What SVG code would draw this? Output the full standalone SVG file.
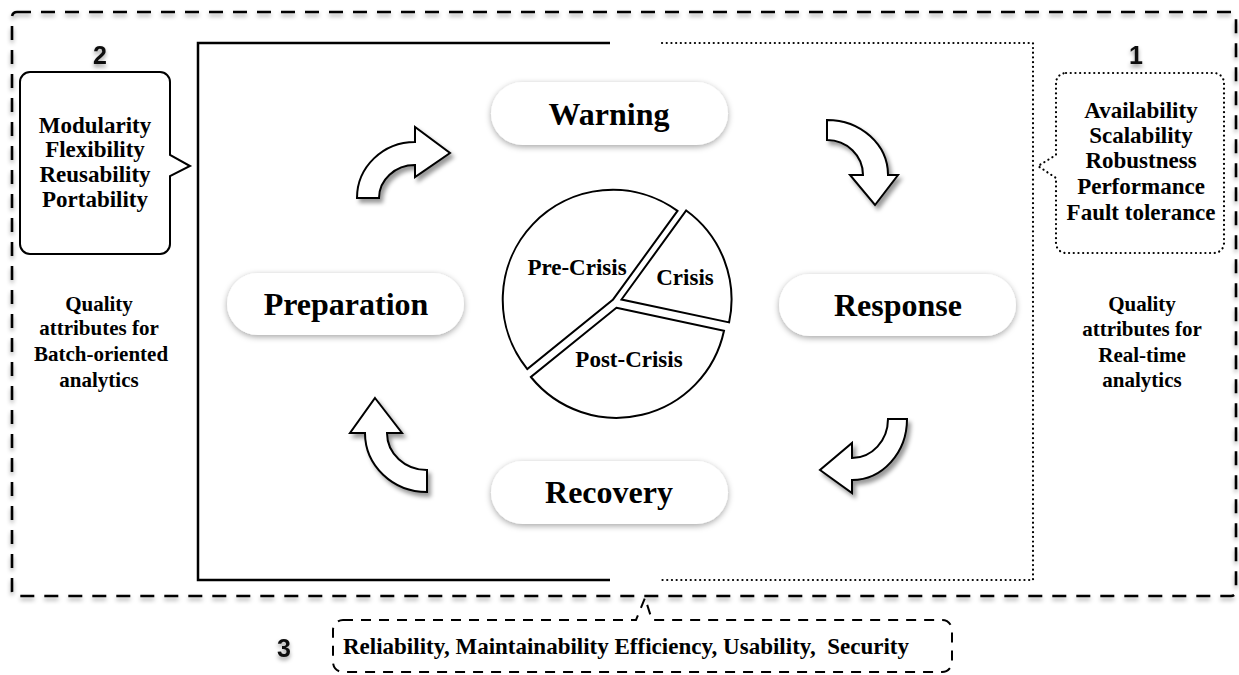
<svg xmlns="http://www.w3.org/2000/svg" width="1239" height="675" viewBox="0 0 1239 675">
<defs>
<filter id="soft" x="-20%" y="-40%" width="140%" height="190%"><feDropShadow dx="0" dy="2" stdDeviation="3" flood-color="#000" flood-opacity="0.35"/></filter>
<filter id="ash" x="-30%" y="-30%" width="170%" height="170%"><feDropShadow dx="3" dy="4" stdDeviation="2" flood-color="#000" flood-opacity="0.4"/></filter>
<filter id="bsh" x="-5%" y="-5%" width="110%" height="115%"><feDropShadow dx="0" dy="3" stdDeviation="2" flood-color="#000" flood-opacity="0.35"/></filter>
<filter id="nsh" x="-50%" y="-50%" width="200%" height="200%"><feDropShadow dx="0" dy="3" stdDeviation="2" flood-color="#000" flood-opacity="0.4"/></filter>
</defs>
<style>
.t{font-family:"Liberation Serif","Times New Roman",serif;font-weight:bold;text-anchor:middle;fill:#000}
.big{font-size:32px}
.mid{font-size:23px}
.lab{font-size:21px}
.pie{font-size:23px}
.num{font-family:"Liberation Sans",Arial,sans-serif;font-weight:bold;font-size:25px;text-anchor:middle;fill:#111;filter:url(#nsh)}
.pill{fill:#fff;filter:url(#soft)}
.arr{fill:#fff;stroke:#000;stroke-width:2;stroke-linejoin:miter;filter:url(#ash)}
.slice{fill:#fff;stroke:#000;stroke-width:2}
</style>
<rect width="1239" height="675" fill="#fff"/>

<g id="outer-frame">
<rect x="12" y="12" width="1224" height="584" rx="5" fill="none" stroke="#000" stroke-width="2.6" stroke-dasharray="14 10" filter="url(#bsh)"/>
</g>

<g id="inner-frame">
<path d="M610,43 H198 V580 H610" fill="none" stroke="#000" stroke-width="2.5"/>
<path d="M662,43 H1033 V580 H662" fill="none" stroke="#000" stroke-width="2.2" stroke-dasharray="0.1 4.6" stroke-linecap="round"/>
</g>

<g id="callout-2">
<text class="num" x="100" y="64">2</text>
<path d="M30,72 H160 A10,10 0 0 1 170,82 V155 L190,166 L170,176 V244 A10,10 0 0 1 160,254 H30 A10,10 0 0 1 20,244 V82 A10,10 0 0 1 30,72 Z" fill="#fff" stroke="#000" stroke-width="2"/>
<text class="t mid" x="95" y="133">Modularity</text>
<text class="t mid" x="95" y="157">Flexibility</text>
<text class="t mid" x="95" y="182">Reusability</text>
<text class="t mid" x="95" y="207">Portability</text>
</g>

<g id="label-batch">
<text class="t lab" x="99" y="311">Quality</text>
<text class="t lab" x="99" y="335">attributes for</text>
<text class="t lab" x="101" y="361">Batch-oriented</text>
<text class="t lab" x="99" y="387">analytics</text>
</g>

<g id="callout-1">
<text class="num" x="1136" y="64">1</text>
<path d="M1066,73 H1214 A10,10 0 0 1 1224,83 V243 A10,10 0 0 1 1214,253 H1066 A10,10 0 0 1 1056,243 V178 L1038,166 L1056,155 V83 A10,10 0 0 1 1066,73 Z" fill="#fff" stroke="#000" stroke-width="2.2" stroke-dasharray="0.1 4.6" stroke-linecap="round"/>
<text class="t mid" x="1141" y="118">Availability</text>
<text class="t mid" x="1141" y="143">Scalability</text>
<text class="t mid" x="1141" y="168">Robustness</text>
<text class="t mid" x="1141" y="194">Performance</text>
<text class="t mid" x="1141" y="220">Fault tolerance</text>
</g>

<g id="label-realtime">
<text class="t lab" x="1142" y="311">Quality</text>
<text class="t lab" x="1142" y="336">attributes for</text>
<text class="t lab" x="1142" y="362">Real-time</text>
<text class="t lab" x="1142" y="387">analytics</text>
</g>

<g id="callout-3">
<text class="num" x="284" y="657">3</text>
<path d="M343,620 H636 L645,598 L652,620 H942 A10,10 0 0 1 952,630 V662 A10,10 0 0 1 942,672 H343 A10,10 0 0 1 333,662 V630 A10,10 0 0 1 343,620 Z" fill="none" stroke="#000" stroke-width="2" stroke-dasharray="10 8"/>
<text class="t mid" x="626" y="654" xml:space="preserve">Reliability, Maintainability Efficiency, Usability,  Security</text>
</g>

<g id="node-warning">
<rect class="pill" x="491" y="82" width="237" height="63" rx="31.5"/>
<text class="t big" x="609" y="125">Warning</text>
</g>
<g id="node-response">
<rect class="pill" x="779" y="274" width="237" height="62" rx="31"/>
<text class="t big" x="898" y="316">Response</text>
</g>
<g id="node-recovery">
<rect class="pill" x="491" y="461" width="237" height="63" rx="31.5"/>
<text class="t big" x="609" y="503">Recovery</text>
</g>
<g id="node-preparation">
<rect class="pill" x="227" y="273" width="237" height="62" rx="31"/>
<text class="t big" x="346" y="315">Preparation</text>
</g>

<g id="node-pie">
<path class="slice" d="M612.8,299.9 L677.5,210.9 A110,110 0 0 0 527.3,369.1 Z"/>
<path class="slice" d="M621.5,299.5 L686.2,210.5 A110,110 0 0 1 729.1,322.4 Z"/>
<path class="slice" d="M616.4,307.8 L724.0,330.7 A110,110 0 0 1 530.9,377.0 Z"/>
<text class="t pie" x="577" y="275">Pre-Crisis</text>
<text class="t pie" x="685" y="285">Crisis</text>
<text class="t pie" x="629" y="367">Post-Crisis</text>
</g>

<g id="connectors">
<path class="arr" d="M357,198 A58,56 0 0 1 415,142 L415,127 L450,153 L415,177 L415,165 A36,33 0 0 0 379,198 Z"/>
<path class="arr" d="M827,120 A61,55 0 0 1 888,175 L898,175 L875,205 L850,175 L863,175 A36,35 0 0 0 827,140 Z"/>
<path class="arr" d="M888,419 A36,39 0 0 1 852,458 L852,443 L820,470 L852,493 L852,480 A55,61 0 0 0 907,419 Z"/>
<path class="arr" d="M375,398 L402,433 L387,433 A40,37 0 0 0 427,470 L427,492 A62,59 0 0 1 365,433 L350,433 Z"/>
</g>
</svg>
